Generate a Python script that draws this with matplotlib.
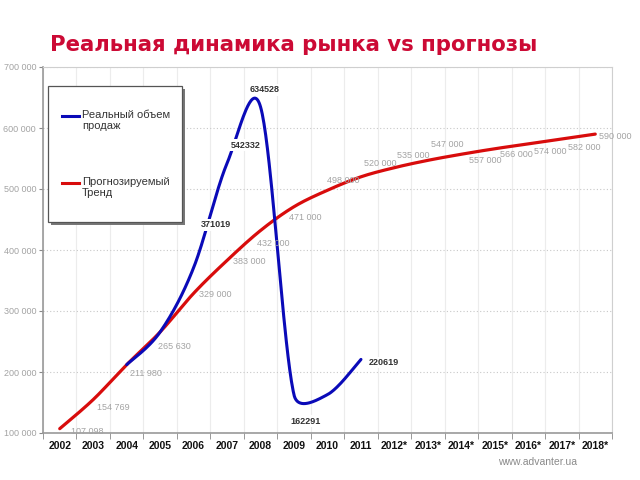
import numpy as np
import matplotlib

matplotlib.use("Agg")
import matplotlib.pyplot as plt
from matplotlib.patches import Rectangle
from matplotlib.lines import Line2D

# --- data ---
years = ["2002", "2003", "2004", "2005", "2006", "2007", "2008", "2009", "2010",
         "2011", "2012*", "2013*", "2014*", "2015*", "2016*", "2017*", "2018*"]
trend = [107098, 154769, 211980, 265630, 329000, 383000, 432000, 471000, 498000,
         520000, 535000, 547000, 557000, 566000, 574000, 582000, 590000]
trend_labels = ["107 098", "154 769", "211 980", "265 630", "329 000", "383 000",
                "432 000", "471 000", "498 000", "520 000", "535 000", "547 000",
                "557 000", "566 000", "574 000", "582 000", "590 000"]
real_years = ["2004", "2005", "2006", "2007", "2008", "2009", "2010", "2011"]
real = [211980, 265630, 371019, 542332, 634528, 162291, 163000, 220619]
real_labelled = ["2006", "2007", "2008", "2009", "2011"]
yticks = [100000, 200000, 300000, 400000, 500000, 600000, 700000]

# label offsets in pixels (x right, y up)
trend_off = [(28, -3), (20, -8), (19, -9), (14, -15), (22, -1), (22, -1), (13, -13),
             (11, -11), (16, 10), (19, 13), (19, 12), (19, 16), (24, -6), (22, -6),
             (22, -8), (22, -9), (20, -2)]
real_off = [(22, 43), (19, 18), (4, 17), (12, -26), (23, -3)]

BLUE = "#0a0ab8"
RED = "#d80c0c"
TITLE = "#cc0a35"
GREY_TXT = "#a3a3a3"
SANS = "Liberation Sans"


def smooth(ax, xs, ys, n=40):
    """Bezier smoothing done in screen space, arms limited to half a segment."""
    pts = ax.transData.transform(np.column_stack([xs, ys]).astype(float))
    k = len(pts)
    out = [pts[:1]]
    t = np.linspace(0, 1, n)[1:, None]
    for i in range(k - 1):
        p0, p1 = pts[max(i - 1, 0)], pts[i]
        p2, p3 = pts[i + 1], pts[min(i + 2, k - 1)]
        seg = np.linalg.norm(p2 - p1)
        arms = []
        for a in ((p2 - p0) / 6, (p3 - p1) / 6):
            la = np.linalg.norm(a)
            if la > seg / 2:
                a = a * (seg / 2) / la
            arms.append(a)
        c1, c2 = p1 + arms[0], p2 - arms[1]
        out.append((1 - t) ** 3 * p1 + 3 * (1 - t) ** 2 * t * c1
                   + 3 * (1 - t) * t ** 2 * c2 + t ** 3 * p2)
    return ax.transData.inverted().transform(np.vstack(out)).T


fig = plt.figure(figsize=(6.4, 4.8), dpi=100)
fig.patch.set_facecolor("white")
ax = fig.add_axes([43 / 640, 1 - 433 / 480, (612 - 43) / 640, (433 - 67) / 480])
ax.set_xlim(-0.5, len(years) - 0.5)
ax.set_ylim(100000, 700000)

xi = np.arange(len(years))
rx = np.array([years.index(y) for y in real_years])

sx, sy = smooth(ax, xi, trend)
ax.plot(sx, sy, color=RED, lw=2.3, solid_capstyle="round", zorder=3)
bx, by = smooth(ax, rx, real)
ax.plot(bx, by, color=BLUE, lw=2.2, solid_capstyle="round", zorder=4)

for i, (lab, off) in enumerate(zip(trend_labels, trend_off)):
    ax.annotate(lab, (xi[i], trend[i]), xytext=off, textcoords="offset pixels",
                ha="center", va="center", fontsize=6.5, family=SANS, color=GREY_TXT,
                zorder=5, annotation_clip=False)

for yr, off in zip(real_labelled, real_off):
    j = real_years.index(yr)
    ax.annotate(f"{real[j]}", (rx[j], real[j]), xytext=off, textcoords="offset pixels",
                ha="center", va="center", fontsize=6.5, family=SANS, color="#333333",
                fontweight="bold", zorder=6,
                bbox=dict(boxstyle="square,pad=0.15", fc="white", ec="none"))

ax.set_xticks(xi)
ax.set_xticklabels(years, fontsize=7.5, family=SANS, color="#111111", fontweight="bold")
ax.set_xticks(np.arange(len(years) + 1) - 0.5, minor=True)
ax.tick_params(axis="x", which="major", length=0, pad=6)
ax.tick_params(axis="x", which="minor", length=4, color="#888888", direction="out")
ax.set_yticks(yticks)
ax.set_yticklabels([f"{v // 1000} 000" for v in yticks], fontsize=6.5, family=SANS,
                   color=GREY_TXT)
ax.tick_params(axis="y", length=3, color="#888888", direction="out", pad=2)

ax.grid(axis="x", which="minor", color="#ececec", lw=0.8)
ax.grid(axis="y", which="major", color="#c8c8c8", lw=0.8, ls=(0, (1, 2)))
ax.set_axisbelow(True)
for s in ("top", "right"):
    ax.spines[s].set_color("#cfcfcf")
for s in ("left", "bottom"):
    ax.spines[s].set_color("#999999")
    ax.spines[s].set_linewidth(1.2)


# legend box drawn in figure pixels
def fx(px):
    return px / 640


def fy(py):
    return 1 - py / 480


fig.add_artist(Rectangle((fx(51), fy(225)), fx(134), 136 / 480, transform=fig.transFigure,
                         fc="#777777", ec="none", zorder=10))
fig.add_artist(Rectangle((fx(48), fy(222)), fx(134), 136 / 480, transform=fig.transFigure,
                         fc="white", ec="#555555", lw=0.9, zorder=11))
for col, ypx, txt in ((BLUE, 116, "Реальный объем\nпродаж"),
                      (RED, 183, "Прогнозируемый\nТренд")):
    fig.add_artist(Line2D([fx(62), fx(79)], [fy(ypx), fy(ypx)], color=col, lw=2.2,
                          transform=fig.transFigure, zorder=12))
    fig.text(fx(82), fy(ypx - 6), txt, fontsize=8, family=SANS, color="#333333",
             va="top", ha="left", linespacing=1.1, zorder=12)

fig.text(fx(50), fy(45), "Реальная динамика рынка vs прогнозы", fontsize=15.3,
         fontweight="bold", color=TITLE, ha="left", va="center")
fig.text(fx(498), fy(462), "www.advanter.ua", fontsize=7.5, family=SANS, color="#8a8a8a",
         ha="left", va="center")

fig.savefig("out.png", dpi=100, facecolor="white")
